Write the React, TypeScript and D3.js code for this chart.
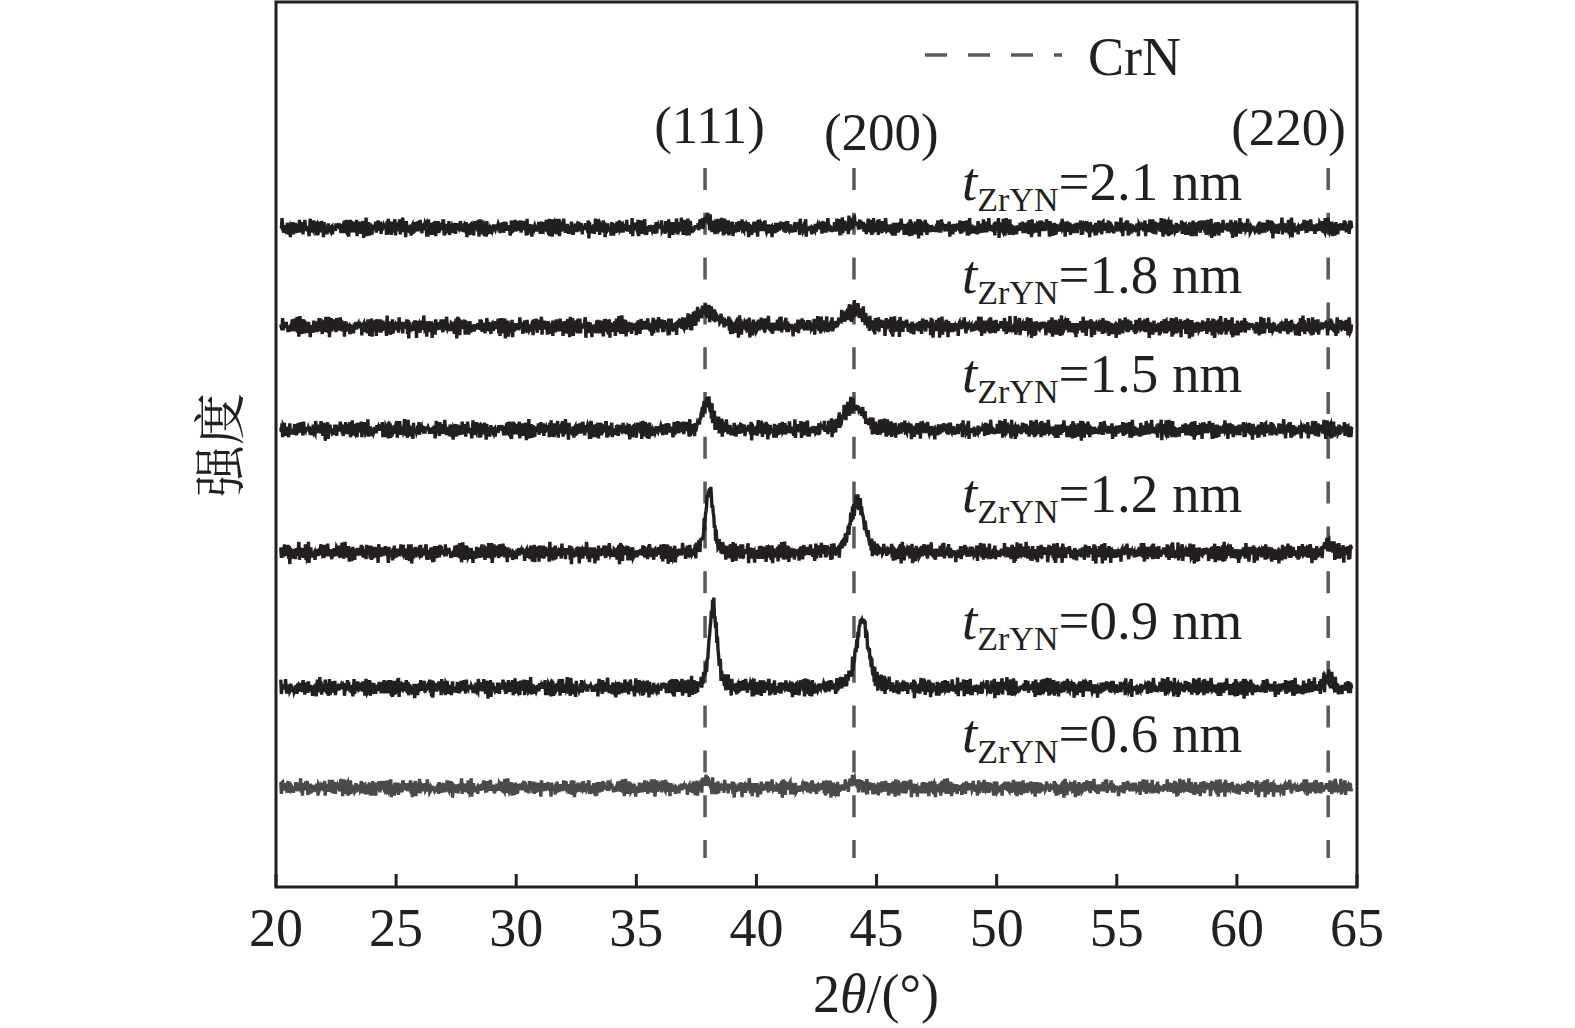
import React from "react";
import * as d3 from "d3";

// ---- data ----
const xTicks = [20, 25, 30, 35, 40, 45, 50, 55, 60, 65];
const seriesNames = ["2.1", "1.8", "1.5", "1.2", "0.9", "0.6"];
const seriesBaselines = [659, 560, 457, 334, 199, 99]; // a.u. offsets
const seriesLabelY = [687, 594, 495, 375, 248, 135];
const seriesColors = ["#231f20", "#231f20", "#231f20", "#231f20", "#231f20", "#4a4a4a"];
const noiseAmp = [5.8, 6.4, 6.0, 6.2, 6.0, 5.4];
// peaks per series: [2theta, height, FWHM]
const peaks21 = [[37.95, 9, 0.3], [44.05, 8, 0.3]];
const peaks18 = [[37.9, 16, 1.0], [44.05, 16, 0.9]];
const peaks15 = [[37.95, 27, 0.5], [44.05, 25, 0.9]];
const peaks12 = [[38.05, 64, 0.38], [44.2, 52, 0.65], [63.8, 8, 0.4]];
const peaks09 = [[38.2, 82, 0.38], [44.4, 68, 0.6], [63.8, 9, 0.4]];
const peaks06 = [[37.9, 7, 0.3], [44.05, 8, 0.3]];
const seriesPeaks = [peaks21, peaks18, peaks15, peaks12, peaks09, peaks06];
// measured background fluctuation, two hand-read sequences
const noiseA = [0.3, -0.6, 0.8, -0.2, 0.5, -0.9, 0.1, 0.7, -0.4, 0.2, -0.7, 0.9, -0.1, 0.4, -0.5, 0.6, -0.8, 0.0, 0.5, -0.3, 0.9, -0.6, 0.2, -0.1, 0.7, -0.9, 0.3, 0.6, -0.4, 0.1, -0.7, 0.8, -0.2, 0.4, -0.5, 0.0, 0.9, -0.8, 0.3, -0.3, 0.6, -0.1, 0.2, -0.6, 0.7, -0.4, 0.5, -0.9, 0.1, 0.8, -0.2, 0.4, -0.7, 0.3, -0.5, 0.6, -0.1, 0.9, -0.3, 0.2, -0.8];
const noiseB = [-0.4, 0.7, -0.1, 0.5, -0.8, 0.2, 0.9, -0.5, 0.0, 0.6, -0.3, 0.4, -0.9, 0.8, -0.2, 0.1, -0.6, 0.7, -0.4, 0.3, 0.5, -0.7, 0.2, -0.1, 0.9, -0.5, 0.6, -0.8, 0.1, 0.4, -0.3, 0.7, -0.6, 0.0, 0.8, -0.2, 0.3, -0.9, 0.5, -0.4, 0.6, 0.1, -0.7, 0.9, -0.3, 0.2, -0.5, 0.4, -0.8, 0.7, -0.1, 0.3, -0.6, 0.8, -0.4, 0.0, 0.5, -0.2, 0.9, -0.7, 0.1, -0.3, 0.6, -0.5, 0.2, -0.9, 0.4];
const crnLines = [37.86, 44.06, 63.8];
const hklLabels = ["(111)", "(200)", "(220)"];
const hklX = [38.05, 45.2, 62.15];
const hklY = [744, 737, 742];

const W = 1575;
const H = 1028;
const L = 276, R = 1357, T = 2, B = 887;
const FONT = "'Liberation Serif', 'Times New Roman', serif";
const INK = "#231f20";

function pv(x: number, c: number, h: number, w: number) {
  const d = (x - c) / w;
  const g = Math.exp(-4 * Math.LN2 * d * d);
  const l = 1 / (1 + 4 * d * d);
  return h * (0.6 * g + 0.4 * l);
}

export default function App() {
  const x = d3.scaleLinear().domain([20, 65]).range([L, R]);
  const y = d3.scaleLinear().domain([0, 885]).range([B, T]);
  const step = 0.025;
  const xs = d3.range(20.2, 64.8, step);
  const line = d3.line<[number, number]>().x((d) => x(d[0])).y((d) => y(d[1]));

  const paths = seriesNames.map((_, s) => {
    const pts: [number, number][] = xs.map((tt, k) => {
      const n =
        noiseA[(k + s * 17) % noiseA.length] +
        noiseB[(k * 3 + s * 29) % noiseB.length];
      let v = seriesBaselines[s] + n * noiseAmp[s];
      for (const p of seriesPeaks[s]) v += pv(tt, p[0], p[1], p[2]);
      return [tt, v];
    });
    return line(pts) as string;
  });

  return (
    <svg width={W} height={H} style={{ position: "absolute", left: 0, top: 0, background: "#fff" }}>
      {/* dashed CrN reference lines */}
      {crnLines.map((c, i) => (
        <line key={"c" + i} x1={x(c)} x2={x(c)} y1={168} y2={858}
          stroke="#5a5a5a" strokeWidth={3.5} strokeDasharray="22 22.8" />
      ))}
      {/* traces */}
      {paths.map((p, s) => (
        <path key={"p" + s} d={p} fill="none" stroke={seriesColors[s]} strokeWidth={3.4} strokeLinejoin="miter" />
      ))}
      {/* frame */}
      <rect x={L} y={T} width={R - L} height={B - T} fill="none" stroke={INK} strokeWidth={3} />
      {xTicks.map((t) => (
        <g key={"t" + t}>
          <line x1={x(t)} x2={x(t)} y1={B} y2={B - 13} stroke={INK} strokeWidth={3} />
          <text x={x(t)} y={946} textAnchor="middle" fontFamily={FONT} fontSize={54} fill={INK}>{t}</text>
        </g>
      ))}
      {/* hkl labels */}
      {hklLabels.map((lab, i) => (
        <text key={"h" + i} x={x(hklX[i])} y={y(hklY[i])} textAnchor="middle" fontFamily={FONT} fontSize={53} fill={INK}>{lab}</text>
      ))}
      {/* series labels */}
      {seriesNames.map((nm, s) => (
        <text key={"l" + s} x={962} y={y(seriesLabelY[s])} fontFamily={FONT} fontSize={55} fill={INK}>
          <tspan fontStyle="italic">t</tspan>
          <tspan fontSize={34} dy={11}>ZrYN</tspan>
          <tspan dy={-11}>={nm} nm</tspan>
        </text>
      ))}
      {/* legend */}
      <line x1={925} x2={1062} y1={55} y2={55} stroke="#5a5a5a" strokeWidth={3.5} strokeDasharray="22 21" />
      <text x={1088} y={75} fontFamily={FONT} fontSize={54} fill={INK}>CrN</text>
      {/* axis titles */}
      <text x={876} y={1012} textAnchor="middle" fontFamily={FONT} fontSize={54} fill={INK}>
        2<tspan fontStyle="italic">θ</tspan>/(°)
      </text>
      <text transform="translate(216,445) rotate(-90)" textAnchor="middle" dominantBaseline="central"
        fontFamily="'Noto Serif CJK SC', 'Noto Sans CJK SC', serif" fontSize={52} fill={INK}>强度</text>
    </svg>
  );
}
